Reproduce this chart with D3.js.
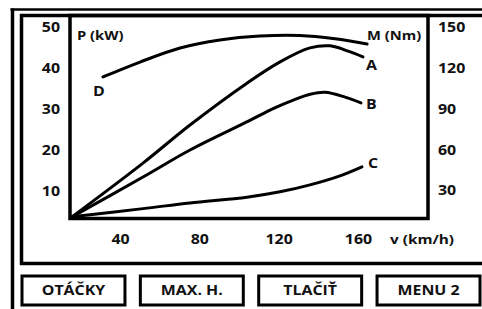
<!DOCTYPE html>
<html lang="cs">
<head>
<meta charset="UTF-8">
<title>P, M - v</title>
<style>
  body { margin: 0; background: #fff; }
  svg text { font-family: "Open Sans", sans-serif; font-weight: 700; fill: #111; }
</style>
</head>
<body>
<script src="https://d3js.org/d3.v7.min.js"></script>
<script>
// tick labels
var vTicks = [40, 80, 120, 160];
var pTicks = [10, 20, 30, 40, 50];
var mTicks = [30, 60, 90, 120, 150];

// power curves A, B, C (kW) vs speed (km/h)
var speedA = [15.8, 51.6, 75.3, 104, 120.7, 135.8, 145.9, 155, 162.5];
var powerA = [3.7, 16.8, 26.1, 36.3, 41.5, 44.9, 45.4, 44.1, 42.7];
var speedB = [15.8, 51.6, 75.3, 105, 117.2, 128, 135.8, 143.4, 153.5, 161.5];
var powerB = [3.7, 13.4, 20, 27.1, 30.1, 32.3, 33.6, 34.1, 32.9, 31.5];
var speedC = [15.8, 51.6, 75.3, 104, 120.7, 135.8, 150.9, 162];
var powerC = [3.7, 5.7, 7.1, 8.5, 9.8, 11.5, 13.7, 15.9];
// torque curve D (Nm)
var speedD = [31.4, 50.1, 70.3, 90.4, 110.6, 130.8, 148.4, 164.6];
var torqueD = [113.2, 124.2, 134.5, 140.4, 143.3, 143.7, 141.3, 137.5];

var buttons = ["OTÁČKY", "MAX. H.", "TLAČIŤ", "MENU 2"];

var W = 482, H = 309;
var sx = 1.18; // labels are a bit wide in the original

var svg = d3.select("body").append("svg")
    .attr("width", W).attr("height", H);

var x = d3.scaleLinear().domain([40, 160]).range([120, 358]);
var yP = d3.scaleLinear().domain([10, 50]).range([191, 27]);
var yM = d3.scaleLinear().domain([30, 150]).range([190, 27]);

// frames
function hline(x1, x2, y, w) {
    svg.append("line").attr("x1", x1).attr("x2", x2).attr("y1", y).attr("y2", y)
        .attr("stroke", "#000").attr("stroke-width", w);
}
function vline(xx, y1, y2, w) {
    svg.append("line").attr("x1", xx).attr("x2", xx).attr("y1", y1).attr("y2", y2)
        .attr("stroke", "#000").attr("stroke-width", w);
}
hline(10.5, W + 5, 9.5, 2.5);
vline(12.5, 8.5, H + 5, 3.5);
hline(20, W + 5, 15.5, 3.5);
vline(21.5, 14, 265, 3.5);
hline(20, W + 5, 263.5, 3.5);

// plot area
svg.append("rect").attr("x", 70).attr("y", 15.5).attr("width", 358).attr("height", 203)
    .attr("fill", "none").attr("stroke", "#000").attr("stroke-width", 3.5);

// axes
var left = svg.append("g").attr("transform", "translate(60,0)")
    .call(d3.axisLeft(yP).tickValues(pTicks).tickSize(0).tickPadding(0));
var right = svg.append("g").attr("transform", "translate(438,0)")
    .call(d3.axisRight(yM).tickValues(mTicks).tickSize(0).tickPadding(0));
var bottom = svg.append("g").attr("transform", "translate(0,239)")
    .call(d3.axisBottom(x).tickValues(vTicks).tickSize(0).tickPadding(0));
[left, right, bottom].forEach(function(g) {
    g.select(".domain").remove();
    g.selectAll("text")
        .attr("font-family", null).attr("font-size", 13.5)
        .attr("fill", "#111").attr("x", 0).attr("y", 0).attr("dy", "0.36em")
        .attr("transform", "scale(" + sx + ",1)");
});

function label(t, px, py, size, anchor) {
    svg.append("text")
        .attr("transform", "translate(" + px + "," + py + ") scale(" + sx + ",1)")
        .attr("font-size", size || 13.5)
        .attr("text-anchor", anchor || "start")
        .text(t);
}
label("P (kW)", 77, 40, 12.5);
label("M (Nm)", 367, 40, 12.5);
label("v (km/h)", 422, 243.5, 13, "middle");

// curves
var series = [
    { name: "A", v: speedA, val: powerA, y: yP, dx: 3, dy: 13, at: "end" },
    { name: "B", v: speedB, val: powerB, y: yP, dx: 5, dy: 6, at: "end" },
    { name: "C", v: speedC, val: powerC, y: yP, dx: 6, dy: 1, at: "end" },
    { name: "D", v: speedD, val: torqueD, y: yM, dx: -10, dy: 19, at: "start" }
];

series.forEach(function(s) {
    var pts = s.v.map(function(v, i) { return [v, s.val[i]]; });
    var line = d3.line()
        .x(function(d) { return x(d[0]); })
        .y(function(d) { return s.y(d[1]); })
        .curve(d3.curveCatmullRom.alpha(0.5));
    svg.append("path")
        .attr("d", line(pts))
        .attr("fill", "none")
        .attr("stroke", "#000")
        .attr("stroke-width", 3)
        .attr("stroke-linecap", "round");
    var p = s.at == "end" ? pts[pts.length - 1] : pts[0];
    label(s.name, x(p[0]) + s.dx, s.y(p[1]) + s.dy, 13.5);
});

// buttons
var bx = d3.scaleBand().domain(buttons).range([22, 480]).paddingInner(0.13);
var btn = svg.selectAll(".btn").data(buttons).enter().append("g")
    .attr("class", "btn")
    .attr("transform", function(d) { return "translate(" + bx(d) + ",276)"; });
btn.append("rect")
    .attr("width", bx.bandwidth()).attr("height", 29)
    .attr("fill", "#fff").attr("stroke", "#000").attr("stroke-width", 3);
btn.append("text")
    .attr("transform", "translate(" + bx.bandwidth() / 2 + ",19) scale(" + sx + ",1)")
    .attr("text-anchor", "middle")
    .attr("font-size", 13.5)
    .text(function(d) { return d; });
</script>
</body>
</html>
